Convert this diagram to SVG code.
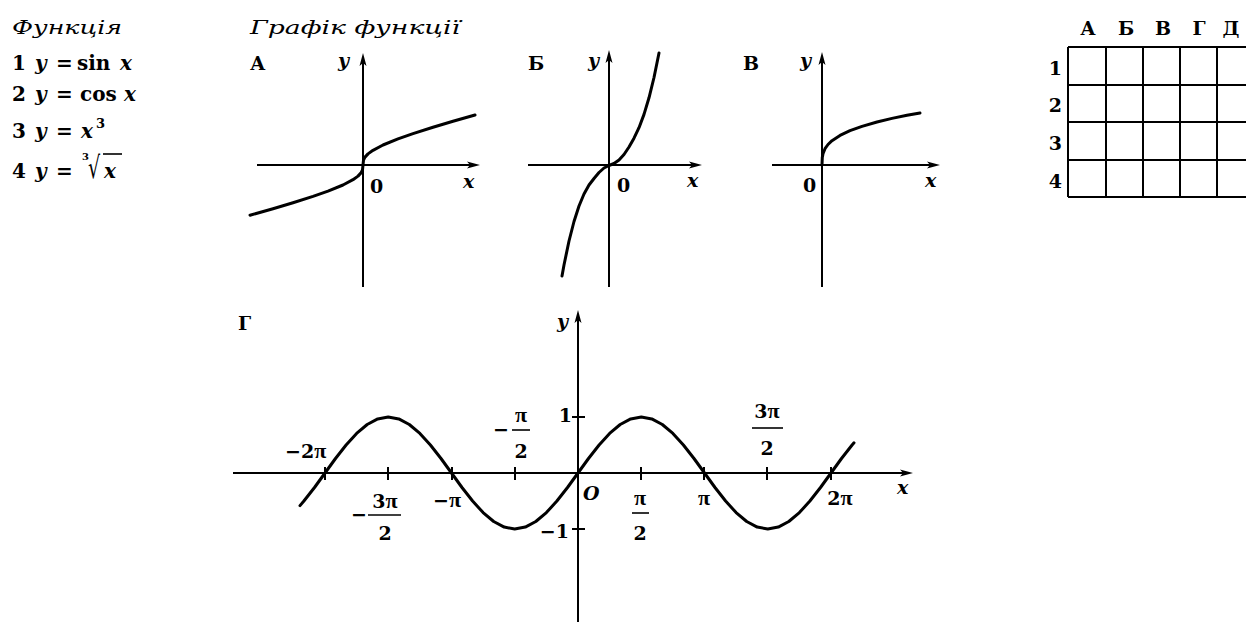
<svg xmlns="http://www.w3.org/2000/svg" width="1246" height="622" viewBox="0 0 1246 622">
<style>
.t{font-family:"DejaVu Serif","Liberation Serif",serif;font-weight:bold;font-size:19px;fill:#000}
.l{font-size:20px}
.it{font-style:italic}
.pi{font-family:"Liberation Serif","DejaVu Serif",serif;font-size:22px;font-weight:bold}
.ttl{font-family:"DejaVu Serif","Liberation Serif",serif;font-style:italic;font-size:19px;fill:#000}
.ax{stroke:#000;stroke-width:2;fill:none}
.cv{stroke:#000;stroke-width:3;fill:none;stroke-linejoin:round;stroke-linecap:round}
.bar{stroke:#000;stroke-width:1.6}
.grid{stroke:#000;stroke-width:2;fill:none}
</style>
<defs>
<marker id="arr" markerWidth="14" markerHeight="8" refX="7" refY="4" orient="auto" markerUnits="userSpaceOnUse">
<path d="M0,0.5 L13,4 L0,7.5 L3,4 z" fill="#000"/>
</marker>
</defs>

<g id="functions">
<text class="ttl" x="12" y="34" textLength="110" lengthAdjust="spacingAndGlyphs">Функція</text>
<text class="t l" x="12" y="70">1</text>
<text class="t l it" x="35" y="70">y</text>
<text class="t l" x="56" y="70">=</text>
<text class="t l" x="77" y="70">sin</text>
<text class="t l it" x="120" y="70">x</text>

<text class="t l" x="12" y="101">2</text>
<text class="t l it" x="35" y="101">y</text>
<text class="t l" x="56" y="101">=</text>
<text class="t l" x="80" y="101">cos</text>
<text class="t l it" x="124" y="101">x</text>

<text class="t l" x="12" y="138">3</text>
<text class="t l it" x="35" y="138">y</text>
<text class="t l" x="56" y="138">=</text>
<text class="t l it" x="81" y="138">x</text>
<text class="t" style="font-size:13px" x="96" y="128">3</text>

<text class="t l" x="12" y="178">4</text>
<text class="t l it" x="35" y="178">y</text>
<text class="t l" x="56" y="178">=</text>
<text class="t" style="font-size:10px" x="82" y="160">3</text>
<text class="t" style="font-size:19px;font-weight:normal" transform="translate(88,178) scale(1,1.6)">√</text>
<line class="bar" x1="103" y1="154" x2="122" y2="154"/>
<text class="t l it" x="104" y="178">x</text>
</g>

<g id="graph-A">
<text class="ttl" x="250" y="34" textLength="210" lengthAdjust="spacingAndGlyphs">Графік функції</text>
<text class="t" x="250" y="70">А</text>
<line class="ax" x1="257" y1="165" x2="474" y2="165" marker-end="url(#arr)"/>
<line class="ax" x1="363" y1="287" x2="363" y2="59" marker-end="url(#arr)"/>
<text class="t it" x="338" y="67">y</text>
<text class="t" x="370" y="193">0</text>
<text class="t it" x="463" y="188">x</text>
<polyline class="cv" points="250,215.2 273,208.8 293,202.8 313,196.4 328,191.1 343,185 353,179.7 358,176.1 361,172.9 362.5,169.8 363,165 363.5,160.2 365,157.1 368,153.9 373,150.3 383,145 398,138.9 413,133.6 433,127.2 453,121.2 475,115"/>
</g>

<g id="graph-B">
<text class="t" x="528" y="70">Б</text>
<line class="ax" x1="528" y1="165" x2="696" y2="165" marker-end="url(#arr)"/>
<line class="ax" x1="609" y1="287" x2="609" y2="56" marker-end="url(#arr)"/>
<text class="t it" x="588" y="67">y</text>
<text class="t" x="617" y="192">0</text>
<text class="t it" x="687" y="187">x</text>
<polyline class="cv" points="562,276 564,265 569,241 574,221.5 579,206 584,194 589,185 594,178.5 599,172.5 604,168 609,165.5 614,163.5 619,160 624,154.5 629,147 634,138.2 639,127.7 644,114.4 649,97.8 654,77.5 659,53"/>
</g>

<g id="graph-V">
<text class="t" x="743" y="70">В</text>
<line class="ax" x1="772" y1="165" x2="934" y2="165" marker-end="url(#arr)"/>
<line class="ax" x1="822" y1="287" x2="822" y2="58" marker-end="url(#arr)"/>
<text class="t it" x="800" y="67">y</text>
<text class="t" x="803" y="192">0</text>
<text class="t it" x="925" y="187">x</text>
<polyline class="cv" points="822,165 822.3,157.4 823,153.7 825,148.7 828,144.5 832,140.7 840,135.4 850,130.7 862,126.4 877,122 892,118.4 907,115.3 920,112.9"/>
</g>

<g id="table">
<text class="t" text-anchor="middle" x="1088" y="35">А</text>
<text class="t" text-anchor="middle" x="1126" y="35">Б</text>
<text class="t" text-anchor="middle" x="1163" y="35">В</text>
<text class="t" text-anchor="middle" x="1199" y="35">Г</text>
<text class="t" text-anchor="middle" x="1231" y="35">Д</text>
<text class="t" text-anchor="end" x="1062" y="75">1</text>
<text class="t" text-anchor="end" x="1062" y="112">2</text>
<text class="t" text-anchor="end" x="1062" y="150">3</text>
<text class="t" text-anchor="end" x="1062" y="188">4</text>
<path class="grid" d="M1068,47 H1246 M1068,85 H1246 M1068,122 H1246 M1068,160 H1246 M1068,197 H1246 M1068,47 V197 M1106,47 V197 M1143,47 V197 M1180,47 V197 M1217,47 V197"/>
</g>

<g id="graph-G">
<text class="t" x="238" y="330">Г</text>
<line class="ax" x1="233" y1="473" x2="907" y2="473" marker-end="url(#arr)"/>
<line class="ax" x1="578" y1="622" x2="578" y2="316" marker-end="url(#arr)"/>
<path class="ax" d="M325,467 V480 M388,467 V480 M452,467 V480 M515,467 V480 M641,467 V480 M704,467 V480 M767,467 V480 M831,467 V480 M572,417 H585 M572,529 H585"/>
<polyline class="cv" points="300,505.6 303.9,501 314.5,487.5 325,473 335.5,458.5 346.1,445 356.6,433.4 367.2,424.5 377.7,418.9 388.2,417 398.8,418.9 409.3,424.5 419.9,433.4 430.4,445 441,458.5 451.5,473 462,487.5 472.6,501 483.1,512.6 493.7,521.5 504.2,527.1 514.7,529 525.3,527.1 535.8,521.5 546.4,512.6 556.9,501 567.5,487.5 578,473 588.5,458.5 599.1,445 609.6,433.4 620.2,424.5 630.7,418.9 641.3,417 651.8,418.9 662.3,424.5 672.9,433.4 683.4,445 694,458.5 704.5,473 715,487.5 725.6,501 736.1,512.6 746.7,521.5 757.2,527.1 767.8,529 778.3,527.1 788.8,521.5 799.4,512.6 809.9,501 820.5,487.5 831,473 841.5,458.5 852.1,445 854,442.8"/>
<text class="t it" x="557" y="328">y</text>
<text class="t it" x="897" y="494">x</text>
<text class="t" x="285" y="458">−2<tspan class="pi">π</tspan></text>
<text class="t" x="351" y="521">−</text>
<text class="t" text-anchor="middle" x="385" y="508">3<tspan class="pi">π</tspan></text>
<line class="bar" x1="368" y1="515" x2="401" y2="515"/>
<text class="t" text-anchor="middle" x="385" y="540">2</text>
<text class="t" text-anchor="middle" x="447" y="507">−<tspan class="pi">π</tspan></text>
<text class="t" x="493" y="436">−</text>
<text class="t pi" text-anchor="middle" x="521" y="422">π</text>
<line class="bar" x1="512" y1="430" x2="530" y2="430"/>
<text class="t" text-anchor="middle" x="521" y="458">2</text>
<text class="t" text-anchor="end" x="572" y="422">1</text>
<text class="t it" x="583" y="500">O</text>
<text class="t" text-anchor="end" x="569" y="538">−1</text>
<text class="t pi" text-anchor="middle" x="640" y="505">π</text>
<line class="bar" x1="632" y1="513" x2="649" y2="513"/>
<text class="t" text-anchor="middle" x="640" y="540">2</text>
<text class="t pi" text-anchor="middle" x="704" y="505">π</text>
<text class="t" text-anchor="middle" x="767" y="418">3<tspan class="pi">π</tspan></text>
<line class="bar" x1="752" y1="428" x2="783" y2="428"/>
<text class="t" text-anchor="middle" x="767" y="455">2</text>
<text class="t" text-anchor="middle" x="840" y="505">2<tspan class="pi">π</tspan></text>
</g>
</svg>
